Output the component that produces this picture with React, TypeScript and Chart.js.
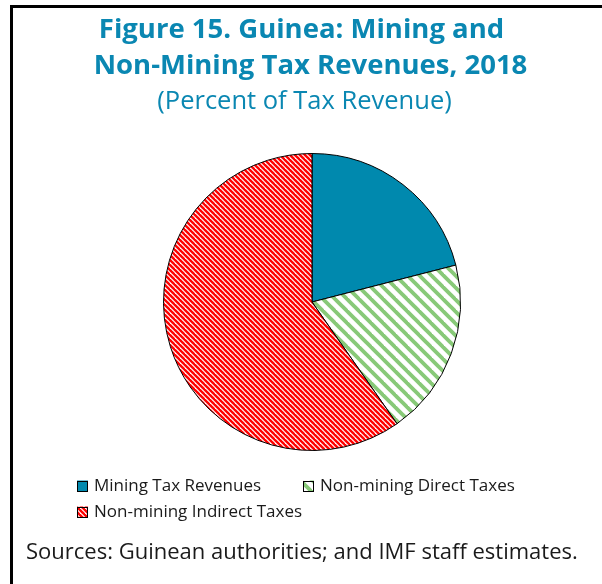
import React, { useEffect, useRef } from 'react';
import { Chart, registerables } from 'chart.js';

Chart.register(...registerables);

const titleLines = ['Figure 15. Guinea: Mining and', 'Non-Mining Tax Revenues, 2018'];
const subtitleText = '(Percent of Tax Revenue)';
const sourceText = 'Sources: Guinean authorities; and IMF staff estimates.';
const categories = ['Mining Tax Revenues', 'Non-mining Direct Taxes', 'Non-mining Indirect Taxes'];
const shares = [21.0, 19.3, 59.7];

const TITLE_COLOR = '#0a87b2';
const TEAL = '#0089ae';
const FONT = '"Open Sans", "Noto Sans", sans-serif';

function makeStripe(fg: string, bg: string, period: number, width: number): CanvasPattern | string {
  const c = document.createElement('canvas');
  c.width = period;
  c.height = period;
  const g = c.getContext('2d');
  if (!g) return fg;
  g.fillStyle = bg;
  g.fillRect(0, 0, period, period);
  g.strokeStyle = fg;
  g.lineWidth = width;
  for (let k = -2 * period; k <= 2 * period; k += period) {
    g.beginPath();
    g.moveTo(-period, -period + k);
    g.lineTo(2 * period, 2 * period + k);
    g.stroke();
  }
  const p = g.createPattern(c, 'repeat');
  return p || fg;
}

export default function App() {
  const ref = useRef<HTMLCanvasElement | null>(null);

  useEffect(() => {
    const canvas = ref.current;
    if (!canvas) return;
    const red = makeStripe('#ff0000', '#ffffff', 5, 2.4);
    const green = makeStripe('#88c978', '#ffffff', 12, 3.8);
    const fills = [TEAL, green, red];

    const framePlugin = {
      id: 'frame',
      beforeDraw(chart: any) {
        const ctx = chart.ctx;
        ctx.save();
        ctx.fillStyle = '#ffffff';
        ctx.fillRect(0, 0, chart.width, chart.height);
        ctx.fillStyle = '#000000';
        ctx.fillRect(10, 5, 3, chart.height - 5);
        ctx.fillRect(10, 5, chart.width - 10, 3);
        ctx.restore();
      },
      afterDraw(chart: any) {
        const ctx = chart.ctx;
        ctx.save();
        ctx.textAlign = 'center';
        ctx.textBaseline = 'alphabetic';
        ctx.fillStyle = TITLE_COLOR;
        ctx.font = `bold 27.5px ${FONT}`;
        ctx.fillText(titleLines[0], 301.5, 38);
        ctx.fillText(titleLines[1], 310.5, 74);
        ctx.font = `25.5px ${FONT}`;
        ctx.fillText(subtitleText, 304.5, 109);

        // legend
        const items = [
          { x: 77, y: 486 },
          { x: 303, y: 486 },
          { x: 77, y: 512 },
        ];
        ctx.textAlign = 'left';
        ctx.textBaseline = 'middle';
        ctx.font = `17px ${FONT}`;
        categories.forEach((label, i) => {
          const { x, y } = items[i];
          const s = 11;
          ctx.fillStyle = fills[i];
          ctx.fillRect(x, y - s / 2, s, s);
          ctx.strokeStyle = '#000';
          ctx.lineWidth = 1;
          ctx.strokeRect(x + 0.5, Math.round(y - s / 2) + 0.5, s - 1, s - 1);
          ctx.fillStyle = '#1a1a1a';
          ctx.fillText(label, x + 17, y);
        });

        ctx.font = `22px ${FONT}`;
        ctx.fillStyle = '#1a1a1a';
        ctx.fillText(sourceText, 26, 553);
        ctx.restore();
      },
    };

    const chart = new Chart(canvas, {
      type: 'pie',
      data: {
        labels: categories,
        datasets: [
          {
            data: shares,
            backgroundColor: fills as any,
            borderColor: '#000000',
            borderWidth: 1,
            hoverOffset: 0,
          },
        ],
      },
      options: {
        responsive: false,
        animation: false,
        events: [],
        layout: { padding: { left: 163, right: 141, top: 153, bottom: 133 } },
        plugins: {
          legend: { display: false },
          tooltip: { enabled: false },
          title: { display: false },
        },
      },
      plugins: [framePlugin],
    });
    return () => chart.destroy();
  }, []);

  return (
    <div style={{ position: 'fixed', left: 0, top: 0, width: 602, height: 584, background: '#fff' }}>
      <canvas ref={ref} width={602} height={584} style={{ display: 'block' }} />
    </div>
  );
}
